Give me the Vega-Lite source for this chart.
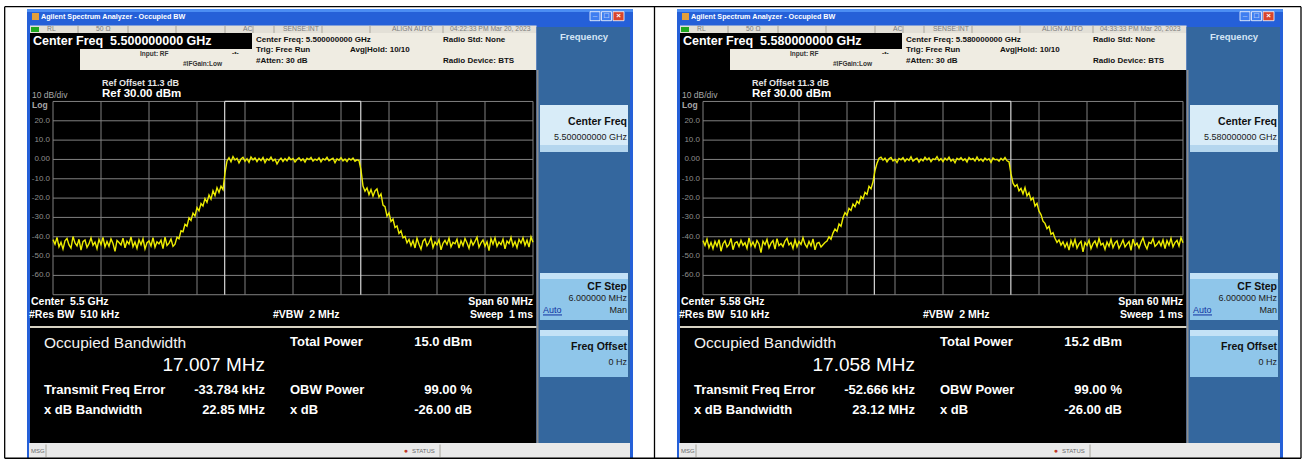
{
"$schema": "https://vega.github.io/schema/vega-lite/v6.json",
"background": "white",
"padding": 0,
"spacing": 0,
"bounds": "flush",
"config": {"view": {"stroke": null}, "axis": {"disable": true}, "legend": {"disable": true}, "text": {"font": "Liberation Sans", "baseline": "middle"}},
"datasets": {
"box": [
{"k":"frame","x":-33.25,"x2":42.5,"y":77.84,"y2":-155},
{"k":"tbhi","x":-33.25,"x2":42.5,"y":77.84,"y2":76.29},
{"k":"stat","x":-32.875,"x2":30.4375,"y":69.31,"y2":65.42},
{"k":"cream","x":-32.875,"x2":30.4375,"y":65.42,"y2":46.28},
{"k":"blk","x":-32.875,"x2":30.4375,"y":46.28,"y2":-146.73},
{"k":"blk","x":-32.875,"x2":-5.125,"y":65.42,"y2":57.15},
{"k":"blk","x":-32.875,"x2":-26.625,"y":57.15,"y2":46.28},
{"k":"sk","x":30.4375,"x2":42.125,"y":68.53,"y2":-146.73},
{"k":"gline","x":30.4375,"x2":30.6875,"y":46.28,"y2":-146.73},
{"k":"sep","x":-32.875,"x2":30.4375,"y":-86.19,"y2":-87.22},
{"k":"msg","x":-33.0,"x2":42.125,"y":-146.73,"y2":-154.49},
{"k":"btn1","x":30.875,"x2":41.875,"y":28.17,"y2":3.85},
{"k":"btn1lo","x":30.875,"x2":41.875,"y":7.47,"y2":3.85},
{"k":"btn2","x":30.875,"x2":41.875,"y":-58.76,"y2":-83.08},
{"k":"btn2hi","x":30.875,"x2":41.875,"y":-58.76,"y2":-61.86},
{"k":"btn2","x":30.875,"x2":41.875,"y":-88.26,"y2":-112.57},
{"k":"btn2hi","x":30.875,"x2":41.875,"y":-88.26,"y2":-91.36},
{"k":"icon","x":-32.625,"x2":-31.75,"y":75.77,"y2":72.15},
{"k":"lxi","x":-32.75,"x2":-31.75,"y":68.53,"y2":65.94},
{"k":"wbtn","x":37.125,"x2":38.375,"y":76.45,"y2":71.79},
{"k":"wbtn","x":38.5625,"x2":39.8125,"y":76.45,"y2":71.79},
{"k":"wclose","x":40.0,"x2":41.375,"y":76.45,"y2":71.79},
{"k":"ul","x":31.25,"x2":33.625,"y":-80.2,"y2":-80.72}
],
"hb": [{"p":"L","x":-36.04,"x2":44.625,"y":79.03},{"p":"L","x":-36.04,"x2":44.625,"y":-154.6},{"p":"R","x":-36.625,"x2":44.75,"y":79.03},{"p":"R","x":-36.625,"x2":44.75,"y":-154.6}],
"vb": [{"p":"L","x":-36.04,"y":79.03,"y2":-154.6},{"p":"R","x":-36.0625,"y":79.03,"y2":-154.6},{"p":"R","x":44.75,"y":79.03,"y2":-154.6}],
"dv": [{"x":-26.875,"y":69.31,"y2":65.42},{"x":-20.625,"y":69.31,"y2":65.42},{"x":-14.625,"y":69.31,"y2":65.42},{"x":-8.5,"y":69.31,"y2":65.42},{"x":-5.0,"y":69.31,"y2":65.42},{"x":-2.375,"y":69.31,"y2":65.42},{"x":3.625,"y":69.31,"y2":65.42},{"x":9.625,"y":69.31,"y2":65.42},{"x":18.75,"y":69.31,"y2":65.42},{"x":-30.875,"y":-147.5,"y2":-154.0},{"x":18.375,"y":-147.5,"y2":-154.0}],
"gv": [{"f":-30},{"f":-24},{"f":-18},{"f":-12},{"f":-6},{"f":0},{"f":6},{"f":12},{"f":18},{"f":24},{"f":30}],
"gh": [{"d":30},{"d":20},{"d":10},{"d":0},{"d":-10},{"d":-20},{"d":-30},{"d":-40},{"d":-50},{"d":-60},{"d":-70}],
"obw": [{"p":"L","a":-8.54,"b":8.47},{"p":"R","a":-8.58,"b":8.48}],
"txt": [
{"p":"B","s":"ttl","t":"Agilent Spectrum Analyzer - Occupied BW","x":-31.5,"y":73.86},
{"p":"B","s":"wg","t":"_","x":37.75,"y":75.2},
{"p":"B","s":"wg","t":"□","x":39.1875,"y":74.12},
{"p":"B","s":"wg","t":"×","x":40.6875,"y":74.12},
{"p":"B","s":"st","t":"RL","x":-30.75,"y":67.34},
{"p":"B","s":"st","t":"50 Ω","x":-24.625,"y":67.34},
{"p":"B","s":"st","t":"AC","x":-6.25,"y":67.34},
{"p":"B","s":"st","t":"SENSE:INT","x":-1.25,"y":67.34},
{"p":"B","s":"st","t":"ALIGN AUTO","x":12.375,"y":67.34},
{"p":"L","s":"st","t":"04:22:33 PM Mar 20, 2023","x":19.625,"y":67.34},
{"p":"R","s":"st","t":"04:33:33 PM Mar 20, 2023","x":19.625,"y":67.34},
{"p":"L","s":"cf","t":"Center Freq\u00a0 5.500000000 GHz","x":-32.5,"y":61.03},
{"p":"R","s":"cf","t":"Center Freq\u00a0 5.580000000 GHz","x":-32.5,"y":61.03},
{"p":"L","s":"hd","t":"Center Freq: 5.500000000 GHz","x":-4.625,"y":61.8},
{"p":"R","s":"hd","t":"Center Freq: 5.580000000 GHz","x":-4.625,"y":61.8},
{"p":"B","s":"hd","t":"Trig: Free Run","x":-4.625,"y":56.63},
{"p":"B","s":"hd","t":"#Atten: 30 dB","x":-4.625,"y":50.94},
{"p":"B","s":"hd","t":"Avg|Hold: 10/10","x":7.125,"y":56.63},
{"p":"B","s":"hd","t":"Radio Std: None","x":18.75,"y":61.8},
{"p":"B","s":"hd","t":"Radio Device: BTS","x":18.75,"y":50.94},
{"p":"B","s":"hs","t":"Input: RF","x":-19.125,"y":54.56},
{"p":"B","s":"hs","t":"#IFGain:Low","x":-13.75,"y":49.64},
{"p":"B","s":"hs","t":"-•-","x":-7.625,"y":55.23},
{"p":"B","s":"ro","t":"Ref Offset 11.3 dB","x":-23.875,"y":39.71},
{"p":"B","s":"rf","t":"Ref 30.00 dBm","x":-23.875,"y":33.71},
{"p":"B","s":"dv","t":"10 dB/div","x":-32.625,"y":33.6},
{"p":"B","s":"lg","t":"Log","x":-32.625,"y":28.2},
{"p":"B","s":"yt","t":"20.0","x":-30.375,"y":20},
{"p":"B","s":"yt","t":"10.0","x":-30.375,"y":10},
{"p":"B","s":"yt","t":"0.00","x":-30.375,"y":0},
{"p":"B","s":"yt","t":"-10.0","x":-30.375,"y":-10},
{"p":"B","s":"yt","t":"-20.0","x":-30.375,"y":-20},
{"p":"B","s":"yt","t":"-30.0","x":-30.375,"y":-30},
{"p":"B","s":"yt","t":"-40.0","x":-30.375,"y":-40},
{"p":"B","s":"yt","t":"-50.0","x":-30.375,"y":-50},
{"p":"B","s":"yt","t":"-60.0","x":-30.375,"y":-60},
{"p":"L","s":"bl","t":"Center\u00a0 5.5 GHz","x":-32.75,"y":-73.61},
{"p":"R","s":"bl","t":"Center\u00a0 5.58 GHz","x":-32.75,"y":-73.61},
{"p":"B","s":"bl","t":"#Res BW\u00a0 510 kHz","x":-33.0,"y":-80.49},
{"p":"B","s":"bl","t":"#VBW\u00a0 2 MHz","x":-2.5,"y":-80.49},
{"p":"B","s":"br","t":"Span 60 MHz","x":30.0,"y":-73.61},
{"p":"B","s":"br","t":"Sweep\u00a0 1 ms","x":30.0,"y":-80.49},
{"p":"B","s":"ob","t":"Occupied Bandwidth","x":-31.125,"y":-94.98},
{"p":"L","s":"ov","t":"17.007 MHz","x":-3.5,"y":-106.37},
{"p":"R","s":"ov","t":"17.058 MHz","x":-3.5,"y":-106.37},
{"p":"B","s":"rl","t":"Transmit Freq Error","x":-31.125,"y":-119.3},
{"p":"B","s":"rl","t":"x dB Bandwidth","x":-31.125,"y":-129.65},
{"p":"B","s":"rl","t":"Total Power","x":-0.375,"y":-94.46},
{"p":"B","s":"rl","t":"OBW Power","x":-0.375,"y":-119.3},
{"p":"B","s":"rl","t":"x dB","x":-0.375,"y":-129.65},
{"p":"L","s":"rr","t":"-33.784 kHz","x":-3.5,"y":-119.3},
{"p":"L","s":"rr","t":"22.85 MHz","x":-3.5,"y":-129.65},
{"p":"R","s":"rr","t":"-52.666 kHz","x":-3.5,"y":-119.3},
{"p":"R","s":"rr","t":"23.12 MHz","x":-3.5,"y":-129.65},
{"p":"L","s":"rr","t":"15.0 dBm","x":22.375,"y":-94.46},
{"p":"R","s":"rr","t":"15.2 dBm","x":22.375,"y":-94.46},
{"p":"B","s":"rr","t":"99.00 %","x":22.375,"y":-119.3},
{"p":"B","s":"rr","t":"-26.00 dB","x":22.375,"y":-129.65},
{"p":"B","s":"ms","t":"MSG","x":-32.75,"y":-150.61},
{"p":"B","s":"ms","t":"STATUS","x":14.875,"y":-150.61},
{"p":"B","s":"si","t":"●","x":14.1,"y":-150.8},
{"p":"B","s":"fq","t":"Frequency","x":36.375,"y":63.2},
{"p":"B","s":"kb","t":"Center Freq","x":41.75,"y":19.53},
{"p":"L","s":"ks","t":"5.500000000 GHz","x":41.75,"y":11.77},
{"p":"R","s":"ks","t":"5.580000000 GHz","x":41.75,"y":11.77},
{"p":"B","s":"kb","t":"CF Step","x":41.75,"y":-65.85},
{"p":"B","s":"ks","t":"6.000000 MHz","x":41.75,"y":-71.85},
{"p":"B","s":"ka","t":"Auto","x":31.25,"y":-77.9},
{"p":"B","s":"ks","t":"Man","x":41.75,"y":-77.9},
{"p":"B","s":"kb","t":"Freq Offset","x":41.75,"y":-96.9},
{"p":"B","s":"ks","t":"0 Hz","x":41.75,"y":-104.66}
],
"trL": [
{"f":-30,"d":-41.5},{"f":-29.75,"d":-43.9},{"f":-29.5,"d":-40.4},{"f":-29.25,"d":-45.2},{"f":-29,"d":-42.9},{"f":-28.75,"d":-46.4},{"f":-28.5,"d":-42.1},{"f":-28.25,"d":-40.9},{"f":-28,"d":-44.2},{"f":-27.75,"d":-45.9},
{"f":-27.5,"d":-39.9},{"f":-27.25,"d":-43.2},{"f":-27,"d":-44.7},{"f":-26.75,"d":-41.3},{"f":-26.5,"d":-46.9},{"f":-26.25,"d":-42.5},{"f":-26,"d":-41.7},{"f":-25.75,"d":-45.5},{"f":-25.5,"d":-43.6},{"f":-25.25,"d":-40.6},
{"f":-25,"d":-44.4},{"f":-24.75,"d":-42.8},{"f":-24.5,"d":-46.2},{"f":-24.25,"d":-41.4},{"f":-24,"d":-44.0},{"f":-23.75,"d":-40.3},{"f":-23.5,"d":-45.3},{"f":-23.25,"d":-42.4},{"f":-23,"d":-44.9},{"f":-22.75,"d":-41.1},
{"f":-22.5,"d":-43.5},{"f":-22.25,"d":-47.6},{"f":-22,"d":-41.9},{"f":-21.75,"d":-43.0},{"f":-21.5,"d":-44.3},{"f":-21.25,"d":-40.7},{"f":-21,"d":-45.7},{"f":-20.75,"d":-42.3},{"f":-20.5,"d":-43.8},{"f":-20.25,"d":-40.1},
{"f":-20,"d":-45.1},{"f":-19.75,"d":-42.7},{"f":-19.5,"d":-46.0},{"f":-19.25,"d":-41.6},{"f":-19,"d":-44.1},{"f":-18.75,"d":-41.0},{"f":-18.5,"d":-46.3},{"f":-18.25,"d":-43.1},{"f":-18,"d":-42.2},{"f":-17.75,"d":-44.8},
{"f":-17.5,"d":-40.5},{"f":-17.25,"d":-45.4},{"f":-17,"d":-42.6},{"f":-16.75,"d":-43.7},{"f":-16.5,"d":-41.8},{"f":-16.25,"d":-46.1},{"f":-16,"d":-40.2},{"f":-15.75,"d":-44.5},{"f":-15.5,"d":-43.3},{"f":-15.25,"d":-41.2},
{"f":-15,"d":-45.0},{"f":-14.75,"d":-43.8},{"f":-14.5,"d":-40.2},{"f":-14.25,"d":-41.0},{"f":-14,"d":-36.9},{"f":-13.75,"d":-37.4},{"f":-13.5,"d":-33.6},{"f":-13.25,"d":-34.5},{"f":-13,"d":-30.2},{"f":-12.75,"d":-31.6},
{"f":-12.5,"d":-27.8},{"f":-12.25,"d":-29.3},{"f":-12,"d":-24.9},{"f":-11.75,"d":-26.6},{"f":-11.5,"d":-22.8},{"f":-11.25,"d":-24.1},{"f":-11,"d":-20.3},{"f":-10.75,"d":-22.2},{"f":-10.5,"d":-18.4},{"f":-10.25,"d":-20.6},
{"f":-10,"d":-16.2},{"f":-9.75,"d":-18.7},{"f":-9.5,"d":-14.6},{"f":-9.25,"d":-17.1},{"f":-9,"d":-13.8},{"f":-8.75,"d":-15.6},{"f":-8.5,"d":-7.0},{"f":-8.25,"d":-0.8},{"f":-8,"d":0.9},{"f":-7.75,"d":-1.2},
{"f":-7.5,"d":1.5},{"f":-7.25,"d":-0.3},{"f":-7,"d":0.6},{"f":-6.75,"d":-1.8},{"f":-6.5,"d":0.2},{"f":-6.25,"d":1.1},{"f":-6,"d":-0.9},{"f":-5.75,"d":0.4},{"f":-5.5,"d":-1.5},{"f":-5.25,"d":1.3},
{"f":-5,"d":-0.2},{"f":-4.75,"d":0.8},{"f":-4.5,"d":-1.1},{"f":-4.25,"d":0.5},{"f":-4,"d":-0.6},{"f":-3.75,"d":1.0},{"f":-3.5,"d":-1.6},{"f":-3.25,"d":0.3},{"f":-3,"d":-0.4},{"f":-2.75,"d":1.2},
{"f":-2.5,"d":-0.8},{"f":-2.25,"d":0.1},{"f":-2,"d":-2.3},{"f":-1.75,"d":-0.5},{"f":-1.5,"d":0.7},{"f":-1.25,"d":-1.0},{"f":-1,"d":0.4},{"f":-0.75,"d":-0.7},{"f":-0.5,"d":1.1},{"f":-0.25,"d":-0.2},
{"f":0,"d":0.5},{"f":0.25,"d":-1.3},{"f":0.5,"d":0.0},{"f":0.75,"d":0.9},{"f":1,"d":-0.6},{"f":1.25,"d":0.3},{"f":1.5,"d":-1.4},{"f":1.75,"d":0.6},{"f":2,"d":-0.1},{"f":2.25,"d":1.0},
{"f":2.5,"d":-0.9},{"f":2.75,"d":0.2},{"f":3,"d":-0.5},{"f":3.25,"d":0.8},{"f":3.5,"d":-1.2},{"f":3.75,"d":0.4},{"f":4,"d":-0.3},{"f":4.25,"d":1.1},{"f":4.5,"d":-0.7},{"f":4.75,"d":0.0},
{"f":5,"d":0.6},{"f":5.25,"d":-1.7},{"f":5.5,"d":0.3},{"f":5.75,"d":-0.4},{"f":6,"d":0.9},{"f":6.25,"d":-0.8},{"f":6.5,"d":0.2},{"f":6.75,"d":-1.1},{"f":7,"d":0.5},{"f":7.25,"d":-0.3},
{"f":7.5,"d":0.7},{"f":7.75,"d":-0.9},{"f":8,"d":-0.2},{"f":8.25,"d":-0.6},{"f":8.5,"d":-5.5},{"f":8.75,"d":-13.8},{"f":9,"d":-16.4},{"f":9.25,"d":-14.7},{"f":9.5,"d":-18.2},{"f":9.75,"d":-15.6},
{"f":10,"d":-19.0},{"f":10.25,"d":-16.3},{"f":10.5,"d":-15.2},{"f":10.75,"d":-19.5},{"f":11,"d":-17.8},{"f":11.25,"d":-23.6},{"f":11.5,"d":-24.4},{"f":11.75,"d":-29.3},{"f":12,"d":-27.6},{"f":12.25,"d":-32.1},
{"f":12.5,"d":-30.8},{"f":12.75,"d":-35.2},{"f":13,"d":-34.4},{"f":13.25,"d":-38.3},{"f":13.5,"d":-36.9},{"f":13.75,"d":-40.6},{"f":14,"d":-39.8},{"f":14.25,"d":-43.1},{"f":14.5,"d":-41.4},{"f":14.75,"d":-44.6},
{"f":15,"d":-42.0},{"f":15.25,"d":-45.8},{"f":15.5,"d":-40.8},{"f":15.75,"d":-43.9},{"f":16,"d":-46.5},{"f":16.25,"d":-42.3},{"f":16.5,"d":-41.1},{"f":16.75,"d":-44.7},{"f":17,"d":-43.0},{"f":17.25,"d":-40.4},
{"f":17.5,"d":-45.6},{"f":17.75,"d":-42.7},{"f":18,"d":-44.2},{"f":18.25,"d":-41.5},{"f":18.5,"d":-46.8},{"f":18.75,"d":-43.4},{"f":19,"d":-41.9},{"f":19.25,"d":-44.0},{"f":19.5,"d":-40.7},{"f":19.75,"d":-45.2},
{"f":20,"d":-42.9},{"f":20.25,"d":-43.6},{"f":20.5,"d":-41.3},{"f":20.75,"d":-45.9},{"f":21,"d":-42.1},{"f":21.25,"d":-44.6},{"f":21.5,"d":-40.9},{"f":21.75,"d":-43.2},{"f":22,"d":-46.0},{"f":22.25,"d":-41.7},
{"f":22.5,"d":-44.3},{"f":22.75,"d":-42.4},{"f":23,"d":-40.2},{"f":23.25,"d":-45.4},{"f":23.5,"d":-43.1},{"f":23.75,"d":-41.6},{"f":24,"d":-44.9},{"f":24.25,"d":-42.6},{"f":24.5,"d":-47.2},{"f":24.75,"d":-41.0},
{"f":25,"d":-43.8},{"f":25.25,"d":-40.6},{"f":25.5,"d":-45.0},{"f":25.75,"d":-42.8},{"f":26,"d":-44.1},{"f":26.25,"d":-41.2},{"f":26.5,"d":-46.3},{"f":26.75,"d":-42.2},{"f":27,"d":-43.5},{"f":27.25,"d":-40.3},
{"f":27.5,"d":-44.8},{"f":27.75,"d":-42.5},{"f":28,"d":-45.7},{"f":28.25,"d":-41.4},{"f":28.5,"d":-43.3},{"f":28.75,"d":-40.5},{"f":29,"d":-44.4},{"f":29.25,"d":-41.8},{"f":29.5,"d":-45.3},{"f":29.75,"d":-40.1},
{"f":30,"d":-42.9}
],
"trR": [
{"f":-30,"d":-42.0},{"f":-29.75,"d":-44.5},{"f":-29.5,"d":-41.2},{"f":-29.25,"d":-45.6},{"f":-29,"d":-43.0},{"f":-28.75,"d":-46.2},{"f":-28.5,"d":-42.4},{"f":-28.25,"d":-44.9},{"f":-28,"d":-41.5},{"f":-27.75,"d":-47.5},
{"f":-27.5,"d":-43.6},{"f":-27.25,"d":-42.1},{"f":-27,"d":-45.3},{"f":-26.75,"d":-44.0},{"f":-26.5,"d":-40.9},{"f":-26.25,"d":-46.7},{"f":-26,"d":-43.2},{"f":-25.75,"d":-42.6},{"f":-25.5,"d":-45.0},{"f":-25.25,"d":-41.8},
{"f":-25,"d":-44.4},{"f":-24.75,"d":-43.1},{"f":-24.5,"d":-46.0},{"f":-24.25,"d":-40.6},{"f":-24,"d":-44.8},{"f":-23.75,"d":-42.7},{"f":-23.5,"d":-45.4},{"f":-23.25,"d":-41.9},{"f":-23,"d":-43.7},{"f":-22.75,"d":-48.2},
{"f":-22.5,"d":-42.3},{"f":-22.25,"d":-44.1},{"f":-22,"d":-41.4},{"f":-21.75,"d":-45.7},{"f":-21.5,"d":-43.3},{"f":-21.25,"d":-42.0},{"f":-21,"d":-46.4},{"f":-20.75,"d":-41.0},{"f":-20.5,"d":-44.6},{"f":-20.25,"d":-43.5},
{"f":-20,"d":-45.1},{"f":-19.75,"d":-42.2},{"f":-19.5,"d":-40.8},{"f":-19.25,"d":-44.2},{"f":-19,"d":-43.0},{"f":-18.75,"d":-46.1},{"f":-18.5,"d":-41.6},{"f":-18.25,"d":-45.2},{"f":-18,"d":-42.5},{"f":-17.75,"d":-44.0},
{"f":-17.5,"d":-40.5},{"f":-17.25,"d":-43.8},{"f":-17,"d":-45.5},{"f":-16.75,"d":-42.4},{"f":-16.5,"d":-44.7},{"f":-16.25,"d":-41.1},{"f":-16,"d":-46.8},{"f":-15.75,"d":-43.4},{"f":-15.5,"d":-42.9},{"f":-15.25,"d":-45.3},
{"f":-15,"d":-44.1},{"f":-14.75,"d":-43.0},{"f":-14.5,"d":-42.2},{"f":-14.25,"d":-40.0},{"f":-14,"d":-41.3},{"f":-13.75,"d":-38.1},{"f":-13.5,"d":-36.0},{"f":-13.25,"d":-37.2},{"f":-13,"d":-33.4},{"f":-12.75,"d":-34.6},
{"f":-12.5,"d":-30.2},{"f":-12.25,"d":-27.5},{"f":-12,"d":-28.9},{"f":-11.75,"d":-25.3},{"f":-11.5,"d":-26.4},{"f":-11.25,"d":-23.1},{"f":-11,"d":-24.5},{"f":-10.75,"d":-21.6},{"f":-10.5,"d":-22.8},{"f":-10.25,"d":-19.2},
{"f":-10,"d":-20.4},{"f":-9.75,"d":-17.0},{"f":-9.5,"d":-18.1},{"f":-9.25,"d":-13.9},{"f":-9,"d":-15.2},{"f":-8.75,"d":-11.6},{"f":-8.5,"d":-5.8},{"f":-8.25,"d":-1.9},{"f":-8,"d":0.6},{"f":-7.75,"d":1.2},
{"f":-7.5,"d":-0.4},{"f":-7.25,"d":0.7},{"f":-7,"d":-1.3},{"f":-6.75,"d":0.3},{"f":-6.5,"d":1.0},{"f":-6.25,"d":-0.8},{"f":-6,"d":0.1},{"f":-5.75,"d":-1.6},{"f":-5.5,"d":0.5},{"f":-5.25,"d":-0.2},
{"f":-5,"d":0.9},{"f":-4.75,"d":-1.0},{"f":-4.5,"d":0.4},{"f":-4.25,"d":-0.5},{"f":-4,"d":1.4},{"f":-3.75,"d":-0.9},{"f":-3.5,"d":0.0},{"f":-3.25,"d":0.6},{"f":-3,"d":-1.4},{"f":-2.75,"d":0.2},
{"f":-2.5,"d":-0.7},{"f":-2.25,"d":1.1},{"f":-2,"d":-0.3},{"f":-1.75,"d":0.8},{"f":-1.5,"d":-1.2},{"f":-1.25,"d":0.3},{"f":-1,"d":-0.1},{"f":-0.75,"d":1.5},{"f":-0.5,"d":-0.6},{"f":-0.25,"d":0.4},
{"f":0,"d":-1.1},{"f":0.25,"d":0.7},{"f":0.5,"d":-0.4},{"f":0.75,"d":1.2},{"f":1,"d":-0.9},{"f":1.25,"d":0.1},{"f":1.5,"d":-1.7},{"f":1.75,"d":0.6},{"f":2,"d":-0.2},{"f":2.25,"d":0.9},
{"f":2.5,"d":-0.5},{"f":2.75,"d":0.3},{"f":3,"d":-1.3},{"f":3.25,"d":1.0},{"f":3.5,"d":-0.1},{"f":3.75,"d":0.5},{"f":4,"d":-0.8},{"f":4.25,"d":1.3},{"f":4.5,"d":-0.6},{"f":4.75,"d":0.2},
{"f":5,"d":-1.0},{"f":5.25,"d":0.7},{"f":5.5,"d":-0.3},{"f":5.75,"d":0.4},{"f":6,"d":-1.5},{"f":6.25,"d":0.8},{"f":6.5,"d":-0.2},{"f":6.75,"d":0.1},{"f":7,"d":-0.9},{"f":7.25,"d":0.6},
{"f":7.5,"d":-0.4},{"f":7.75,"d":1.0},{"f":8,"d":-0.7},{"f":8.25,"d":-1.2},{"f":8.5,"d":-7.5},{"f":8.75,"d":-12.3},{"f":9,"d":-14.1},{"f":9.25,"d":-13.0},{"f":9.5,"d":-16.2},{"f":9.75,"d":-15.0},
{"f":10,"d":-17.8},{"f":10.25,"d":-14.6},{"f":10.5,"d":-18.9},{"f":10.75,"d":-17.2},{"f":11,"d":-21.0},{"f":11.25,"d":-19.8},{"f":11.5,"d":-24.1},{"f":11.75,"d":-22.7},{"f":12,"d":-26.8},{"f":12.25,"d":-28.5},
{"f":12.5,"d":-31.9},{"f":12.75,"d":-33.1},{"f":13,"d":-35.8},{"f":13.25,"d":-34.6},{"f":13.5,"d":-38.7},{"f":13.75,"d":-37.9},{"f":14,"d":-40.8},{"f":14.25,"d":-42.9},{"f":14.5,"d":-41.6},{"f":14.75,"d":-44.3},
{"f":15,"d":-42.6},{"f":15.25,"d":-45.4},{"f":15.5,"d":-43.1},{"f":15.75,"d":-46.9},{"f":16,"d":-42.0},{"f":16.25,"d":-44.8},{"f":16.5,"d":-41.5},{"f":16.75,"d":-45.9},{"f":17,"d":-43.7},{"f":17.25,"d":-42.4},
{"f":17.5,"d":-47.8},{"f":17.75,"d":-43.0},{"f":18,"d":-44.5},{"f":18.25,"d":-41.8},{"f":18.5,"d":-46.2},{"f":18.75,"d":-43.6},{"f":19,"d":-42.2},{"f":19.25,"d":-45.1},{"f":19.5,"d":-40.9},{"f":19.75,"d":-44.3},
{"f":20,"d":-43.4},{"f":20.25,"d":-46.5},{"f":20.5,"d":-42.7},{"f":20.75,"d":-44.9},{"f":21,"d":-41.3},{"f":21.25,"d":-45.6},{"f":21.5,"d":-43.2},{"f":21.75,"d":-42.1},{"f":22,"d":-46.0},{"f":22.25,"d":-44.0},
{"f":22.5,"d":-41.7},{"f":22.75,"d":-45.3},{"f":23,"d":-43.8},{"f":23.25,"d":-42.5},{"f":23.5,"d":-47.0},{"f":23.75,"d":-41.2},{"f":24,"d":-44.6},{"f":24.25,"d":-43.3},{"f":24.5,"d":-45.8},{"f":24.75,"d":-42.8},
{"f":25,"d":-40.6},{"f":25.25,"d":-44.1},{"f":25.5,"d":-46.3},{"f":25.75,"d":-42.9},{"f":26,"d":-43.5},{"f":26.25,"d":-41.0},{"f":26.5,"d":-45.0},{"f":26.75,"d":-43.9},{"f":27,"d":-42.3},{"f":27.25,"d":-44.7},
{"f":27.5,"d":-41.6},{"f":27.75,"d":-46.1},{"f":28,"d":-42.0},{"f":28.25,"d":-44.4},{"f":28.5,"d":-40.8},{"f":28.75,"d":-45.2},{"f":29,"d":-43.0},{"f":29.25,"d":-41.9},{"f":29.5,"d":-44.8},{"f":29.75,"d":-40.4},
{"f":30,"d":-43.1}
]
},
"hconcat": [
{
"width": 650, "height": 459,
"layer": [
{"data":{"name":"box"},"mark":{"type":"rect"},"encoding":{
"x":{"field":"x","type":"quantitative","axis":null,"scale":{"domain":[-36.625,44.625],"nice":false,"zero":false}},
"x2":{"field":"x2"},
"y":{"field":"y","type":"quantitative","axis":null,"scale":{"domain":[-155,82.5],"nice":false,"zero":false}},
"y2":{"field":"y2"},
"color":{"field":"k","type":"nominal","legend":null,"scale":{"domain":["frame","tbhi","stat","cream","blk","gline","sep","msg","sk","btn1","btn1lo","btn2","btn2hi","icon","lxi","wbtn","wclose","ul"],"range":["#2560d8","#4b8df3","#e3e0d7","#efece2","#000000","#8e8e8e","#d8d3c3","#e9e9e9","#34679e","#d8ecf8","#b4d6ee","#8fc6ea","#c4e2f6","#e3a03a","#1fa81f","#3f7ef0","#d9452b","#1030a0"]}}}},
{"data":{"name":"box"},"transform":[{"filter":"datum.k=='wbtn'||datum.k=='wclose'"}],"mark":{"type":"rect","filled":false,"stroke":"#ffffff","strokeWidth":0.8},"encoding":{"x":{"field":"x","type":"quantitative","axis":null},"x2":{"field":"x2"},"y":{"field":"y","type":"quantitative","axis":null},"y2":{"field":"y2"}}},
{"data":{"name":"dv"},"mark":{"type":"rule","color":"#a8a59c","strokeWidth":1},"encoding":{"x":{"field":"x","type":"quantitative","axis":null},"y":{"field":"y","type":"quantitative","axis":null},"y2":{"field":"y2"}}},
{"data":{"name":"gv"},"mark":{"type":"rule","color":"#808080","strokeWidth":1},"encoding":{"x":{"field":"f","type":"quantitative","axis":null},"y":{"datum":-70,"axis":null},"y2":{"datum":30}}},
{"data":{"name":"gh"},"mark":{"type":"rule","color":"#808080","strokeWidth":1},"encoding":{"y":{"field":"d","type":"quantitative","axis":null},"x":{"datum":-30,"axis":null},"x2":{"datum":30}}},
{"data":{"name":"obw"},"transform":[{"filter":"datum.p=='L'"}],"layer":[
{"mark":{"type":"rule","color":"#d8d8d8","strokeWidth":1.2},"encoding":{"x":{"field":"a","type":"quantitative","axis":null},"y":{"datum":-70,"axis":null},"y2":{"datum":30}}},
{"mark":{"type":"rule","color":"#d8d8d8","strokeWidth":1.2},"encoding":{"x":{"field":"b","type":"quantitative","axis":null},"y":{"datum":-70,"axis":null},"y2":{"datum":30}}},
{"mark":{"type":"rule","color":"#d8d8d8","strokeWidth":1.2},"encoding":{"x":{"field":"a","type":"quantitative","axis":null},"x2":{"field":"b"},"y":{"datum":30,"axis":null}}}]},
{"data":{"name":"trL"},"mark":{"type":"line","color":"#ecec00","strokeWidth":1.4},"encoding":{"x":{"field":"f","type":"quantitative","axis":null},"y":{"field":"d","type":"quantitative","axis":null}}},
{"data":{"name":"hb"},"transform":[{"filter":"datum.p=='L'"}],"mark":{"type":"rule","color":"#000000","strokeWidth":1.3},"encoding":{"x":{"field":"x","type":"quantitative","axis":null},"x2":{"field":"x2"},"y":{"field":"y","type":"quantitative","axis":null}}},
{"data":{"name":"vb"},"transform":[{"filter":"datum.p=='L'"}],"mark":{"type":"rule","color":"#000000","strokeWidth":1.3},"encoding":{"x":{"field":"x","type":"quantitative","axis":null},"y":{"field":"y","type":"quantitative","axis":null},"y2":{"field":"y2"}}},
{"data":{"name":"txt"},"transform":[{"filter":"datum.p!='R'"}],"encoding":{"x":{"field":"x","type":"quantitative","axis":null},"y":{"field":"y","type":"quantitative","axis":null},"text":{"field":"t"}},"layer":[
{"transform":[{"filter":{"field":"s","equal":"ttl"}}],"mark":{"type":"text","fontSize":7.2,"fontWeight":"bold","color":"#ffffff","align":"left"}},
{"transform":[{"filter":{"field":"s","equal":"wg"}}],"mark":{"type":"text","fontSize":8,"fontWeight":"bold","color":"#ffffff","align":"center"}},
{"transform":[{"filter":{"field":"s","equal":"st"}}],"mark":{"type":"text","fontSize":6.8,"color":"#7c7c7c","align":"left"}},
{"transform":[{"filter":{"field":"s","equal":"cf"}}],"mark":{"type":"text","fontSize":12.5,"fontWeight":"bold","color":"#ffffff","align":"left"}},
{"transform":[{"filter":{"field":"s","equal":"hd"}}],"mark":{"type":"text","fontSize":8,"fontWeight":"bold","color":"#111111","align":"left"}},
{"transform":[{"filter":{"field":"s","equal":"hs"}}],"mark":{"type":"text","fontSize":6.5,"fontWeight":"bold","color":"#333333","align":"left"}},
{"transform":[{"filter":{"field":"s","equal":"ro"}}],"mark":{"type":"text","fontSize":9,"fontWeight":"bold","color":"#e6e6e6","align":"left"}},
{"transform":[{"filter":{"field":"s","equal":"rf"}}],"mark":{"type":"text","fontSize":11.5,"fontWeight":"bold","color":"#ffffff","align":"left"}},
{"transform":[{"filter":{"field":"s","equal":"dv"}}],"mark":{"type":"text","fontSize":8.5,"color":"#a8a8a8","align":"left"}},
{"transform":[{"filter":{"field":"s","equal":"lg"}}],"mark":{"type":"text","fontSize":8.5,"fontWeight":"bold","color":"#a8a8a8","align":"left"}},
{"transform":[{"filter":{"field":"s","equal":"yt"}}],"mark":{"type":"text","fontSize":8,"color":"#8e8e8e","align":"right"}},
{"transform":[{"filter":{"field":"s","equal":"bl"}}],"mark":{"type":"text","fontSize":10.5,"fontWeight":"bold","color":"#ffffff","align":"left"}},
{"transform":[{"filter":{"field":"s","equal":"br"}}],"mark":{"type":"text","fontSize":10.5,"fontWeight":"bold","color":"#ffffff","align":"right"}},
{"transform":[{"filter":{"field":"s","equal":"ob"}}],"mark":{"type":"text","fontSize":15.5,"color":"#f2f2f2","align":"left"}},
{"transform":[{"filter":{"field":"s","equal":"ov"}}],"mark":{"type":"text","fontSize":19,"color":"#ffffff","align":"right"}},
{"transform":[{"filter":{"field":"s","equal":"rl"}}],"mark":{"type":"text","fontSize":13,"fontWeight":"bold","color":"#ffffff","align":"left"}},
{"transform":[{"filter":{"field":"s","equal":"rr"}}],"mark":{"type":"text","fontSize":13,"fontWeight":"bold","color":"#ffffff","align":"right"}},
{"transform":[{"filter":{"field":"s","equal":"ms"}}],"mark":{"type":"text","fontSize":6,"color":"#6a6a6a","align":"left"}},
{"transform":[{"filter":{"field":"s","equal":"si"}}],"mark":{"type":"text","fontSize":7,"color":"#c0392b","align":"center"}},
{"transform":[{"filter":{"field":"s","equal":"fq"}}],"mark":{"type":"text","fontSize":9.5,"fontWeight":"bold","color":"#d4e6f6","align":"center"}},
{"transform":[{"filter":{"field":"s","equal":"kb"}}],"mark":{"type":"text","fontSize":10.5,"fontWeight":"bold","color":"#101010","align":"right"}},
{"transform":[{"filter":{"field":"s","equal":"ks"}}],"mark":{"type":"text","fontSize":9,"color":"#202020","align":"right"}},
{"transform":[{"filter":{"field":"s","equal":"ka"}}],"mark":{"type":"text","fontSize":9,"color":"#1030a0","align":"left"}}
]}
]
},
{
"width": 656, "height": 459,
"layer": [
{"data":{"name":"box"},"mark":{"type":"rect"},"encoding":{
"x":{"field":"x","type":"quantitative","axis":null,"scale":{"domain":[-36.625,45.375],"nice":false,"zero":false}},
"x2":{"field":"x2"},
"y":{"field":"y","type":"quantitative","axis":null,"scale":{"domain":[-155,82.5],"nice":false,"zero":false}},
"y2":{"field":"y2"},
"color":{"field":"k","type":"nominal","legend":null,"scale":{"domain":["frame","tbhi","stat","cream","blk","gline","sep","msg","sk","btn1","btn1lo","btn2","btn2hi","icon","lxi","wbtn","wclose","ul"],"range":["#2560d8","#4b8df3","#e3e0d7","#efece2","#000000","#8e8e8e","#d8d3c3","#e9e9e9","#34679e","#d8ecf8","#b4d6ee","#8fc6ea","#c4e2f6","#e3a03a","#1fa81f","#3f7ef0","#d9452b","#1030a0"]}}}},
{"data":{"name":"box"},"transform":[{"filter":"datum.k=='wbtn'||datum.k=='wclose'"}],"mark":{"type":"rect","filled":false,"stroke":"#ffffff","strokeWidth":0.8},"encoding":{"x":{"field":"x","type":"quantitative","axis":null},"x2":{"field":"x2"},"y":{"field":"y","type":"quantitative","axis":null},"y2":{"field":"y2"}}},
{"data":{"name":"dv"},"mark":{"type":"rule","color":"#a8a59c","strokeWidth":1},"encoding":{"x":{"field":"x","type":"quantitative","axis":null},"y":{"field":"y","type":"quantitative","axis":null},"y2":{"field":"y2"}}},
{"data":{"name":"gv"},"mark":{"type":"rule","color":"#808080","strokeWidth":1},"encoding":{"x":{"field":"f","type":"quantitative","axis":null},"y":{"datum":-70,"axis":null},"y2":{"datum":30}}},
{"data":{"name":"gh"},"mark":{"type":"rule","color":"#808080","strokeWidth":1},"encoding":{"y":{"field":"d","type":"quantitative","axis":null},"x":{"datum":-30,"axis":null},"x2":{"datum":30}}},
{"data":{"name":"obw"},"transform":[{"filter":"datum.p=='R'"}],"layer":[
{"mark":{"type":"rule","color":"#d8d8d8","strokeWidth":1.2},"encoding":{"x":{"field":"a","type":"quantitative","axis":null},"y":{"datum":-70,"axis":null},"y2":{"datum":30}}},
{"mark":{"type":"rule","color":"#d8d8d8","strokeWidth":1.2},"encoding":{"x":{"field":"b","type":"quantitative","axis":null},"y":{"datum":-70,"axis":null},"y2":{"datum":30}}},
{"mark":{"type":"rule","color":"#d8d8d8","strokeWidth":1.2},"encoding":{"x":{"field":"a","type":"quantitative","axis":null},"x2":{"field":"b"},"y":{"datum":30,"axis":null}}}]},
{"data":{"name":"trR"},"mark":{"type":"line","color":"#ecec00","strokeWidth":1.4},"encoding":{"x":{"field":"f","type":"quantitative","axis":null},"y":{"field":"d","type":"quantitative","axis":null}}},
{"data":{"name":"hb"},"transform":[{"filter":"datum.p=='R'"}],"mark":{"type":"rule","color":"#000000","strokeWidth":1.3},"encoding":{"x":{"field":"x","type":"quantitative","axis":null},"x2":{"field":"x2"},"y":{"field":"y","type":"quantitative","axis":null}}},
{"data":{"name":"vb"},"transform":[{"filter":"datum.p=='R'"}],"mark":{"type":"rule","color":"#000000","strokeWidth":1.3},"encoding":{"x":{"field":"x","type":"quantitative","axis":null},"y":{"field":"y","type":"quantitative","axis":null},"y2":{"field":"y2"}}},
{"data":{"name":"txt"},"transform":[{"filter":"datum.p!='L'"}],"encoding":{"x":{"field":"x","type":"quantitative","axis":null},"y":{"field":"y","type":"quantitative","axis":null},"text":{"field":"t"}},"layer":[
{"transform":[{"filter":{"field":"s","equal":"ttl"}}],"mark":{"type":"text","fontSize":7.2,"fontWeight":"bold","color":"#ffffff","align":"left"}},
{"transform":[{"filter":{"field":"s","equal":"wg"}}],"mark":{"type":"text","fontSize":8,"fontWeight":"bold","color":"#ffffff","align":"center"}},
{"transform":[{"filter":{"field":"s","equal":"st"}}],"mark":{"type":"text","fontSize":6.8,"color":"#7c7c7c","align":"left"}},
{"transform":[{"filter":{"field":"s","equal":"cf"}}],"mark":{"type":"text","fontSize":12.5,"fontWeight":"bold","color":"#ffffff","align":"left"}},
{"transform":[{"filter":{"field":"s","equal":"hd"}}],"mark":{"type":"text","fontSize":8,"fontWeight":"bold","color":"#111111","align":"left"}},
{"transform":[{"filter":{"field":"s","equal":"hs"}}],"mark":{"type":"text","fontSize":6.5,"fontWeight":"bold","color":"#333333","align":"left"}},
{"transform":[{"filter":{"field":"s","equal":"ro"}}],"mark":{"type":"text","fontSize":9,"fontWeight":"bold","color":"#e6e6e6","align":"left"}},
{"transform":[{"filter":{"field":"s","equal":"rf"}}],"mark":{"type":"text","fontSize":11.5,"fontWeight":"bold","color":"#ffffff","align":"left"}},
{"transform":[{"filter":{"field":"s","equal":"dv"}}],"mark":{"type":"text","fontSize":8.5,"color":"#a8a8a8","align":"left"}},
{"transform":[{"filter":{"field":"s","equal":"lg"}}],"mark":{"type":"text","fontSize":8.5,"fontWeight":"bold","color":"#a8a8a8","align":"left"}},
{"transform":[{"filter":{"field":"s","equal":"yt"}}],"mark":{"type":"text","fontSize":8,"color":"#8e8e8e","align":"right"}},
{"transform":[{"filter":{"field":"s","equal":"bl"}}],"mark":{"type":"text","fontSize":10.5,"fontWeight":"bold","color":"#ffffff","align":"left"}},
{"transform":[{"filter":{"field":"s","equal":"br"}}],"mark":{"type":"text","fontSize":10.5,"fontWeight":"bold","color":"#ffffff","align":"right"}},
{"transform":[{"filter":{"field":"s","equal":"ob"}}],"mark":{"type":"text","fontSize":15.5,"color":"#f2f2f2","align":"left"}},
{"transform":[{"filter":{"field":"s","equal":"ov"}}],"mark":{"type":"text","fontSize":19,"color":"#ffffff","align":"right"}},
{"transform":[{"filter":{"field":"s","equal":"rl"}}],"mark":{"type":"text","fontSize":13,"fontWeight":"bold","color":"#ffffff","align":"left"}},
{"transform":[{"filter":{"field":"s","equal":"rr"}}],"mark":{"type":"text","fontSize":13,"fontWeight":"bold","color":"#ffffff","align":"right"}},
{"transform":[{"filter":{"field":"s","equal":"ms"}}],"mark":{"type":"text","fontSize":6,"color":"#6a6a6a","align":"left"}},
{"transform":[{"filter":{"field":"s","equal":"si"}}],"mark":{"type":"text","fontSize":7,"color":"#c0392b","align":"center"}},
{"transform":[{"filter":{"field":"s","equal":"fq"}}],"mark":{"type":"text","fontSize":9.5,"fontWeight":"bold","color":"#d4e6f6","align":"center"}},
{"transform":[{"filter":{"field":"s","equal":"kb"}}],"mark":{"type":"text","fontSize":10.5,"fontWeight":"bold","color":"#101010","align":"right"}},
{"transform":[{"filter":{"field":"s","equal":"ks"}}],"mark":{"type":"text","fontSize":9,"color":"#202020","align":"right"}},
{"transform":[{"filter":{"field":"s","equal":"ka"}}],"mark":{"type":"text","fontSize":9,"color":"#1030a0","align":"left"}}
]}
]
}
]
}
